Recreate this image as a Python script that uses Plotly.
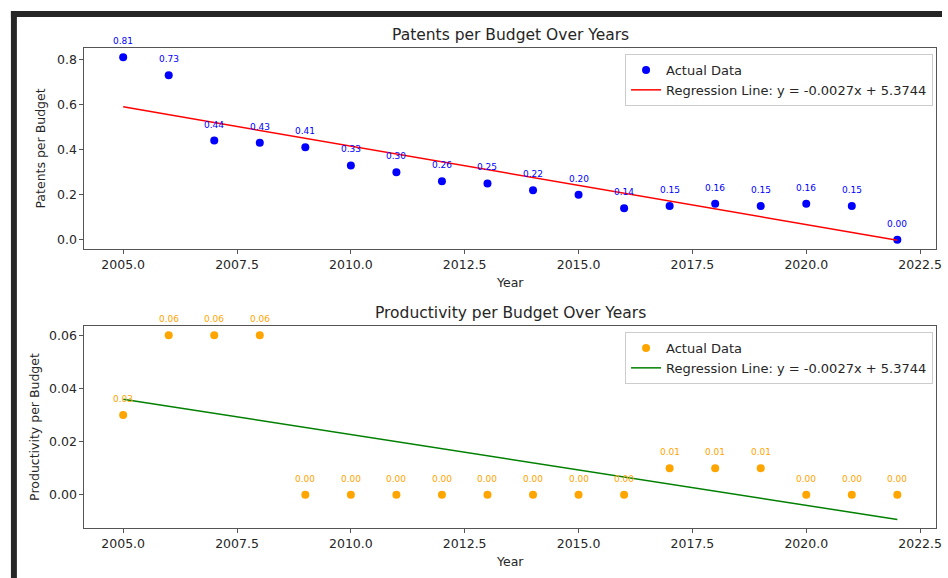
import numpy as np
import plotly.graph_objects as go

# ---- data -------------------------------------------------------------
years = list(range(2005, 2023))
patents_per_budget = [0.81, 0.73, 0.44, 0.43, 0.41, 0.33, 0.30, 0.26, 0.25,
                      0.22, 0.20, 0.14, 0.15, 0.16, 0.15, 0.16, 0.15, 0.00]
productivity_per_budget = [0.03, 0.06, 0.06, 0.06, 0.00, 0.00, 0.00, 0.00, 0.00,
                           0.00, 0.00, 0.00, 0.01, 0.01, 0.01, 0.00, 0.00, 0.00]
x_ticks = [2005.0, 2007.5, 2010.0, 2012.5, 2015.0, 2017.5, 2020.0, 2022.5]
patents_ticks = [0.0, 0.2, 0.4, 0.6, 0.8]
productivity_ticks = [0.00, 0.02, 0.04, 0.06]
titles = ["Patents per Budget Over Years", "Productivity per Budget Over Years"]
y_titles = ["Patents per Budget", "Productivity per Budget"]
reg_label = "Regression Line: y = -0.0027x + 5.3744"

W, H = 948, 578
FONT = "DejaVu Sans"
TXT = "#262626"


def fit_line(xs, ys):
    m, b = np.polyfit(np.array(xs, float), np.array(ys, float), 1)
    return [m * x + b for x in xs]


def px_x(p):
    return p / W


def px_y(p):
    return 1 - p / H


fig = go.Figure()

panels = [
    dict(vals=patents_per_budget, dot="blue", line="red", xa="x", ya="y",
         legend="legend", lab_fmt="{:.2f}"),
    dict(vals=productivity_per_budget, dot="orange", line="green", xa="x2", ya="y2",
         legend="legend2", lab_fmt="{:.2f}"),
]

annotations = []
for p in panels:
    fig.add_trace(go.Scatter(
        x=years, y=p["vals"], mode="markers", name="Actual Data",
        marker=dict(color=p["dot"], size=8), xaxis=p["xa"], yaxis=p["ya"],
        legend=p["legend"]))
    fig.add_trace(go.Scatter(
        x=years, y=fit_line(years, p["vals"]), mode="lines", name=reg_label,
        line=dict(color=p["line"], width=1.5), xaxis=p["xa"], yaxis=p["ya"],
        legend=p["legend"]))
    for xv, yv in zip(years, p["vals"]):
        annotations.append(dict(
            x=xv, y=yv, xref=p["xa"], yref=p["ya"], text=p["lab_fmt"].format(yv),
            showarrow=False, yshift=16, yanchor="middle",
            font=dict(family=FONT, size=9, color=p["dot"])))

# panel titles
for t, yc in zip(titles, [35, 312.5]):
    annotations.append(dict(
        x=(85 + 942) / 2 / W, y=px_y(yc), xref="paper", yref="paper", text=t,
        showarrow=False, xanchor="center", yanchor="middle",
        font=dict(family=FONT, size=15.5, color=TXT)))

axis_common = dict(
    showline=True, mirror=True, linecolor="#555555", linewidth=1,
    ticks="outside", ticklen=4, tickcolor="#555555", tickwidth=1,
    showgrid=False, zeroline=False,
    tickfont=dict(family=FONT, size=12.5, color=TXT),
)
title_font = dict(family=FONT, size=12.5, color=TXT)

x_domain = [px_x(85), px_x(942)]
legend_common = dict(x=px_x(939), xanchor="right", yanchor="top",
                     bgcolor="rgba(255,255,255,0.8)", bordercolor="#cccccc", borderwidth=1,
                     font=dict(family=FONT, size=13, color=TXT))
layout = dict(
    width=W, height=H, margin=dict(l=0, r=0, t=0, b=0),
    paper_bgcolor="white", plot_bgcolor="white",
    font=dict(family=FONT, color=TXT),
    xaxis=dict(domain=x_domain, anchor="y", range=[2004.15, 2022.85],
               tickvals=x_ticks, tickformat=".1f",
               title=dict(text="Year", font=title_font, standoff=7),
               **axis_common),
    yaxis=dict(domain=[px_y(249), px_y(48)], anchor="x", range=[-0.0405, 0.8505],
               tickvals=patents_ticks, tickformat=".1f",
               title=dict(text=y_titles[0], font=title_font, standoff=8),
               **axis_common),
    xaxis2=dict(domain=x_domain, anchor="y2", range=[2004.15, 2022.85],
                tickvals=x_ticks, tickformat=".1f",
                title=dict(text="Year", font=title_font, standoff=7),
                **axis_common),
    yaxis2=dict(domain=[px_y(528), px_y(326)], anchor="x2", range=[-0.0125, 0.0635],
                tickvals=productivity_ticks, tickformat=".2f",
                title=dict(text=y_titles[1], font=title_font, standoff=6),
                **axis_common),
    legend=dict(y=px_y(54), **legend_common),
    legend2=dict(y=px_y(332), **legend_common),
    annotations=annotations,
    showlegend=True,
    shapes=[
        # dark window frame along the top and left edges
        dict(type="rect", xref="paper", yref="paper", x0=px_x(11), x1=1,
             y0=px_y(17), y1=px_y(11), fillcolor="#262626", line=dict(width=0), layer="above"),
        dict(type="rect", xref="paper", yref="paper", x0=px_x(11), x1=px_x(17),
             y0=0, y1=px_y(11), fillcolor="#262626", line=dict(width=0), layer="above"),
    ],
)
fig.update_layout(**layout)

fig.write_html("out.html")
